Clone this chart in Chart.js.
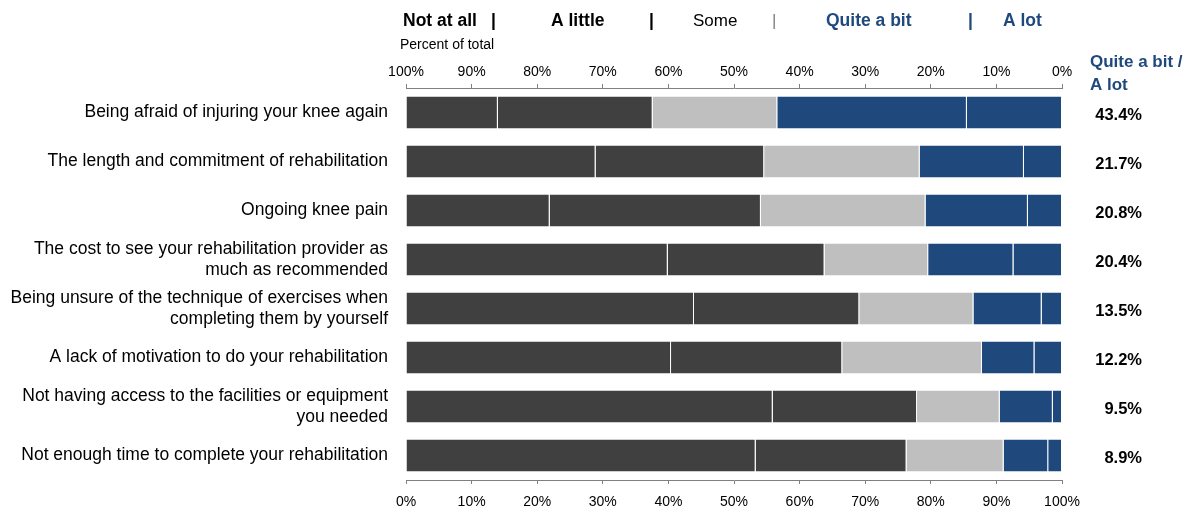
<!DOCTYPE html>
<html lang="en">
<head>
    <meta charset="UTF-8">
    <title>Barriers to rehabilitation</title>
    <script src="https://cdn.jsdelivr.net/npm/chart.js"></script>
    <style>
        html, body { margin: 0; padding: 0; background: #fff; }
        #wrap { width: 1199px; height: 510px; position: relative; }
    </style>
</head>
<body>
    <div id="wrap"><canvas id="graphique"></canvas></div>

    <script>
        // Data (percent of total)
        const categories = [
            'Being afraid of injuring your knee again',
            'The length and commitment of rehabilitation',
            'Ongoing knee pain',
            ['The cost to see your rehabilitation provider as', 'much as recommended'],
            ['Being unsure of the technique of exercises when', 'completing them by yourself'],
            'A lack of motivation to do your rehabilitation',
            ['Not having access to the facilities or equipment', 'you needed'],
            'Not enough time to complete your rehabilitation'
        ];
        const seriesNames = ['Not at all', 'A little', 'Some', 'Quite a bit', 'A lot'];
        const notAtAll  = [14.0, 28.9, 21.9, 39.9, 43.9, 40.4, 55.9, 53.3];
        const aLittle   = [23.6, 25.7, 32.2, 23.9, 25.2, 26.1, 22.0, 23.0];
        const some      = [19.0, 23.7, 25.1, 15.8, 17.4, 21.3, 12.6, 14.8];
        const quiteABit = [28.9, 15.9, 15.6, 13.0, 10.4,  8.0,  8.1,  6.8];
        const aLot      = [14.5,  5.8,  5.2,  7.4,  3.1,  4.2,  1.4,  2.1];
        const xTicks = [0, 10, 20, 30, 40, 50, 60, 70, 80, 90, 100];

        const FONT = '"Liberation Sans", Arial, sans-serif';
        const DARK = '#404040';
        const LIGHT = '#bfbfbf';
        const NAVY = '#1f497d';

        Chart.defaults.font.family = FONT;
        Chart.defaults.color = '#000';

        function mkSet(label, data, color) {
            return {
                label: label,
                data: data,
                backgroundColor: color,
                borderColor: 'rgba(255,255,255,0.9)',
                borderWidth: { left: 0, top: 0, bottom: 0, right: 1 },
                borderSkipped: false,
                barPercentage: 0.65,
                categoryPercentage: 1.0,
                xAxisID: 'x',
                yAxisID: 'y'
            };
        }

        // header texts, separators and the right-hand totals column
        const annotations = {
            id: 'annotations',
            afterDraw(chart) {
                const ctx = chart.ctx;
                ctx.save();
                ctx.textBaseline = 'middle';
                ctx.textAlign = 'left';

                const bold = 'bold 17.5px ' + FONT;
                const reg = '17px ' + FONT;
                const parts = [
                    [seriesNames[0], bold, '#000', 403],
                    ['|', bold, '#000', 491],
                    [seriesNames[1], bold, '#000', 551],
                    ['|', bold, '#000', 649],
                    [seriesNames[2], reg, '#000', 693],
                    ['|', reg, '#7f7f7f', 772],
                    [seriesNames[3], bold, NAVY, 826],
                    ['|', bold, NAVY, 968],
                    [seriesNames[4], bold, NAVY, 1003]
                ];
                parts.forEach(p => {
                    ctx.font = p[1];
                    ctx.fillStyle = p[2];
                    ctx.fillText(p[0], p[3], 21);
                });

                ctx.font = '14px ' + FONT;
                ctx.fillStyle = '#000';
                ctx.fillText('Percent of total', 400, 45);

                ctx.font = 'bold 17px ' + FONT;
                ctx.fillStyle = NAVY;
                ctx.fillText('Quite a bit /', 1090, 62);
                ctx.fillText('A lot', 1090, 85);

                const yScale = chart.scales.y;
                ctx.font = 'bold 16.5px ' + FONT;
                ctx.fillStyle = '#000';
                ctx.textAlign = 'right';
                categories.forEach((c, i) => {
                    const v = (quiteABit[i] + aLot[i]).toFixed(1) + '%';
                    ctx.fillText(v, 1142, yScale.getPixelForValue(i) + 3);
                });
                ctx.restore();
            }
        };

        const axisStyle = {
            type: 'linear',
            min: 0,
            max: 100,
            grid: { drawOnChartArea: false, drawTicks: true, tickLength: 4, color: '#808080' },
            border: { display: true, color: '#808080' },
            afterBuildTicks: (axis) => { axis.ticks = xTicks.map(v => ({ value: v })); }
        };

        const ctx = document.getElementById('graphique').getContext('2d');
        const myChart = new Chart(ctx, {
            type: 'bar',
            data: {
                labels: categories,
                datasets: [
                    mkSet(seriesNames[0], notAtAll, DARK),
                    mkSet(seriesNames[1], aLittle, DARK),
                    mkSet(seriesNames[2], some, LIGHT),
                    mkSet(seriesNames[3], quiteABit, NAVY),
                    mkSet(seriesNames[4], aLot, NAVY)
                ]
            },
            options: {
                indexAxis: 'y',
                responsive: true,
                maintainAspectRatio: false,
                animation: false,
                layout: { padding: { left: 0, right: 137, top: 0, bottom: 0 } },
                plugins: {
                    legend: { display: false },
                    tooltip: { enabled: false }
                },
                scales: {
                    x: Object.assign({}, axisStyle, {
                        position: 'bottom',
                        stacked: true,
                        ticks: { font: { size: 14 }, color: '#000', padding: 10, callback: v => v + '%' },
                        afterFit: (axis) => { axis.height = 30; }
                    }),
                    x2: Object.assign({}, axisStyle, {
                        position: 'top',
                        reverse: true,
                        ticks: { font: { size: 14 }, color: '#000', padding: 3, callback: v => v + '%' },
                        afterFit: (axis) => { axis.height = 88; }
                    }),
                    y: {
                        stacked: true,
                        grid: { display: false },
                        border: { display: false },
                        ticks: {
                            font: { size: 17.5, lineHeight: 1.2 },
                            color: '#000',
                            padding: 10,
                            autoSkip: false
                        },
                        afterFit: (axis) => { axis.width = 406; }
                    }
                }
            },
            plugins: [annotations]
        });
    </script>
</body>
</html>
